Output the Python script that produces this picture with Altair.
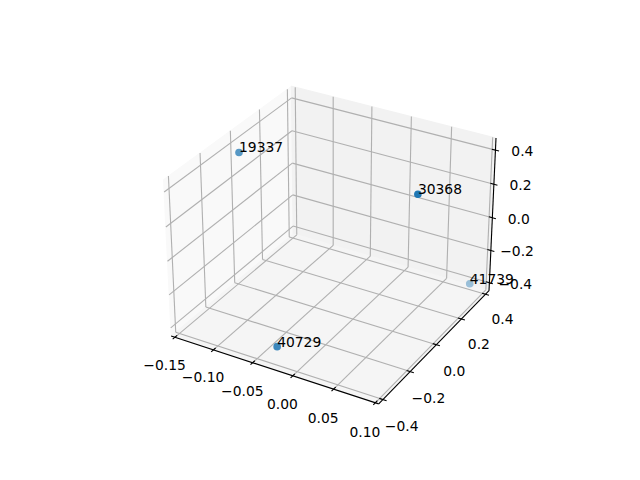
import numpy as np
import pandas as pd
import altair as alt

# --- values ---
labels = ["19337", "30368", "40729", "41739"]
xs = [-0.131, 0.069, -0.031, 0.092]
ys = [-0.069, 0.052, -0.365, 0.343]
zs = [0.418, 0.351, -0.376, -0.358]
shade = [0.74, 1.0, 0.86, 0.42]

x_ticks = [-0.15, -0.10, -0.05, 0.00, 0.05, 0.10]
y_ticks = [-0.4, -0.2, 0.0, 0.2, 0.4]
z_ticks = [-0.4, -0.2, 0.0, 0.2, 0.4]
x_text = ["\u22120.15", "\u22120.10", "\u22120.05", "0.00", "0.05", "0.10"]
y_text = ["\u22120.4", "\u22120.2", "0.0", "0.2", "0.4"]
z_text = ["\u22120.4", "\u22120.2", "0.0", "0.2", "0.4"]

xlim = (-0.155, 0.104)
ylim = (-0.43, 0.43)
zlim = (-0.45, 0.47)

# --- 3D view: elevation 30, azimuth -60, box 4:4:3 ---
elev, azim = np.radians(30), np.radians(-60)
box = np.array([4.0, 4.0, 3.0])
box = box * 1.8294640721620434 * 25 / 24 / np.linalg.norm(box)
w = np.array([np.cos(elev) * np.cos(azim), np.cos(elev) * np.sin(azim), np.sin(elev)])
u = np.cross([0, 0, 1], w)
u = u / np.linalg.norm(u)
v = np.cross(w, u)
dist = 10.0
scale = 369.6 / (1.85 / dist)
lo = np.array([xlim[0], ylim[0], zlim[0]])
hi = np.array([xlim[1], ylim[1], zlim[1]])


def project(x, y, z, off=(0, 0, 0)):
    d = (np.array([x, y, z]) - lo) / (hi - lo) * box - box / 2 + np.array(off)
    depth = dist - w @ d
    return (143.2 + (u @ d / depth + 0.95 / dist) * scale,
            427.2 - (v @ d / depth + 0.95 / dist) * scale)


def seg(a, b, kind):
    p, q = project(*a), project(*b)
    return {"x": p[0], "y": p[1], "x2": q[0], "y2": q[1], "kind": kind}


x0, x1 = xlim
y0, y1 = ylim
z0, z1 = zlim

grid, axis_lines = [], []
for t in x_ticks:
    grid += [seg((t, y0, z0), (t, y1, z0), "g"), seg((t, y1, z0), (t, y1, z1), "g")]
for t in y_ticks:
    grid += [seg((x1, t, z0), (x0, t, z0), "g"), seg((x0, t, z0), (x0, t, z1), "g")]
for t in z_ticks:
    grid += [seg((x0, y0, t), (x0, y1, t), "g"), seg((x0, y1, t), (x1, y1, t), "g")]

axis_lines += [seg((x0, y0, z0), (x1, y0, z0), "a"),
               seg((x1, y0, z0), (x1, y1, z0), "a"),
               seg((x1, y1, z0), (x1, y1, z1), "a")]

TICK = 0.02
dy = (y1 - y0) / box[1] * TICK
dx = (x1 - x0) / box[0] * TICK
for t in x_ticks:
    axis_lines.append(seg((t, y0 - dy, z0), (t, y0 + dy, z0), "a"))
for t in y_ticks:
    axis_lines.append(seg((x1 + dx, t, z0), (x1 - dx, t, z0), "a"))
for t in z_ticks:
    axis_lines.append(seg((x1 + dx, y1, t), (x1 - dx, y1, t), "a"))

tick_rows = []
for t, s in zip(x_ticks, x_text):
    p = project(t, y0, z0, (0, -0.1, -0.112))
    tick_rows.append({"x": p[0], "y": p[1], "text": s})
for t, s in zip(y_ticks, y_text):
    p = project(x1, t, z0, (0.104, 0, -0.1255))
    tick_rows.append({"x": p[0], "y": p[1], "text": s})
for t, s in zip(z_ticks, z_text):
    p = project(x1, y1, t, (0.125, 0.05, 0))
    tick_rows.append({"x": p[0], "y": p[1], "text": s})

points = []
for lab, a, b, c, s in zip(labels, xs, ys, zs, shade):
    p = project(a, b, c)
    points.append({"x": p[0], "y": p[1], "label": lab, "shade": s})


def pane(corners):
    pts = [project(*c) for c in corners]
    edges = list(zip(pts, pts[1:] + pts[:1]))
    rows = []
    for x in sorted(p[0] for p in pts):
        ysv = []
        for (a, b), (c, d) in edges:
            if min(a, c) - 1e-9 <= x <= max(a, c) + 1e-9:
                if abs(c - a) < 1e-9:
                    ysv += [b, d]
                else:
                    ysv.append(b + (d - b) * (x - a) / (c - a))
        rows.append({"x": x, "y": min(ysv), "y2": max(ysv)})
    return pd.DataFrame(rows), [
        {"x": a, "y": b, "x2": c, "y2": d} for (a, b), (c, d) in edges]


panes = [
    ([(x0, y0, z0), (x0, y1, z0), (x0, y1, z1), (x0, y0, z1)], "#f9f9f9"),
    ([(x0, y1, z0), (x1, y1, z0), (x1, y1, z1), (x0, y1, z1)], "#f2f2f2"),
    ([(x0, y0, z0), (x1, y0, z0), (x1, y1, z0), (x0, y1, z0)], "#f5f5f5"),
]

X = alt.X("x:Q", scale=alt.Scale(domain=[8, 632], nice=False, zero=False), axis=None)
Y = alt.Y("y:Q", scale=alt.Scale(domain=[472, 8], nice=False, zero=False), axis=None)

layers = []
for corners, colour in panes:
    area_df, edge_rows = pane(corners)
    layers.append(alt.Chart(area_df).mark_area(color=colour, clip=False, opacity=1).encode(
        x=X, y=Y, y2="y2:Q"))
    layers.append(alt.Chart(pd.DataFrame(edge_rows)).mark_rule(color=colour, strokeWidth=1).encode(
        x=X, y=Y, x2="x2:Q", y2="y2:Q"))

layers.append(alt.Chart(pd.DataFrame(grid)).mark_rule(color="#b0b0b0", strokeWidth=1.11).encode(
    x=X, y=Y, x2="x2:Q", y2="y2:Q"))
layers.append(alt.Chart(pd.DataFrame(axis_lines)).mark_rule(color="#000000", strokeWidth=1.11).encode(
    x=X, y=Y, x2="x2:Q", y2="y2:Q"))
layers.append(alt.Chart(pd.DataFrame(tick_rows)).mark_text(
    font="DejaVu Sans", fontSize=13.89, color="#000000", align="center", baseline="middle").encode(
    x=X, y=Y, text="text:N"))
pts_df = pd.DataFrame(points)
layers.append(alt.Chart(pts_df).mark_point(
    filled=True, color="#1f77b4", size=38.6, stroke="#1f77b4", strokeWidth=1.39).encode(
    x=X, y=Y, opacity=alt.Opacity("shade:Q", scale=None)))
layers.append(alt.Chart(pts_df).mark_text(
    font="DejaVu Sans", fontSize=13.89, color="#000000", align="left", baseline="alphabetic").encode(
    x=X, y=Y, text="label:N"))

chart = alt.layer(*layers).properties(
    width=624, height=464, padding=0, autosize=alt.AutoSizeParams(type="none"), background="#ffffff"
).configure_view(stroke=None)

chart.save("out.html", embed_options={"renderer": "svg", "actions": False})
